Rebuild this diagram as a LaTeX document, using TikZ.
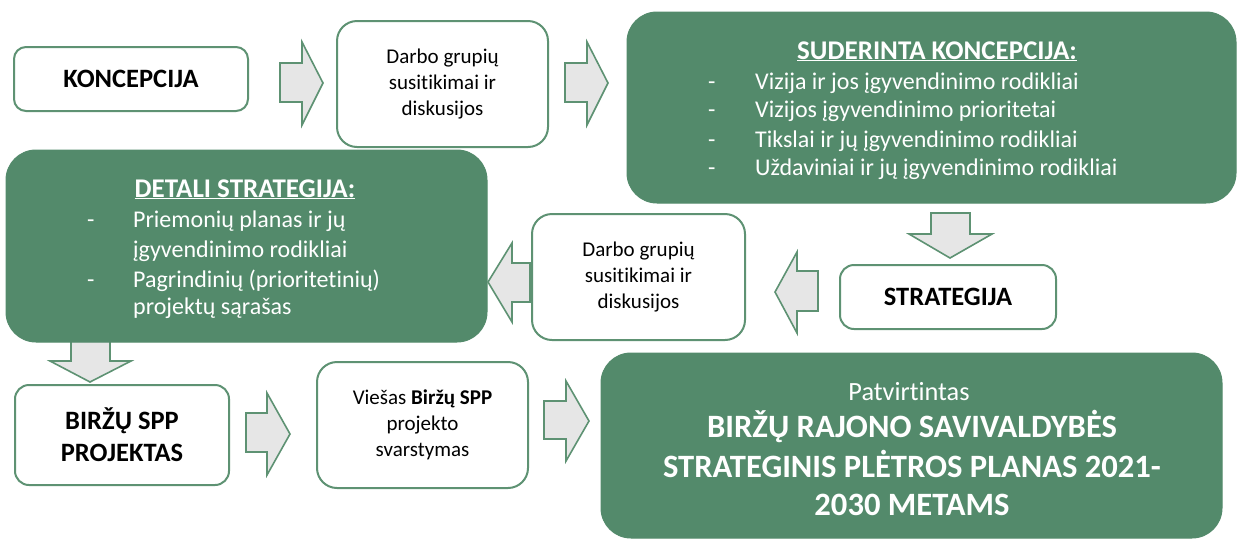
\documentclass[tikz,border=0pt]{standalone}
\usepackage{fontspec}
\setmainfont[Ligatures={NoCommon,NoDiscretionary,NoContextual}]{Carlito}
\definecolor{gr}{HTML}{538A6B}
\definecolor{grb}{HTML}{5E9273}
\definecolor{ag}{HTML}{E6E6E6}
\begin{document}
\begin{tikzpicture}[x=1pt,y=-1pt,
  wbox/.style={draw=grb, line width=2pt, fill=white, inner sep=0pt, align=center},
  gbox/.style={draw=gr, line width=1pt, fill=gr, inner sep=0pt},
  barrow/.style={draw=grb, line width=1.6pt, fill=ag, line join=miter},
  smalltxt/.style={font=\fontsize{21}{26}\selectfont},
  boldtxt/.style={font=\fontsize{26.5}{32}\selectfont\bfseries},
  listtxt/.style={font=\fontsize{24}{30}\selectfont, text=white, inner sep=0pt},
  titletxt/.style={font=\fontsize{27}{32}\selectfont\bfseries, text=white, inner sep=0pt},
  ]
\useasboundingbox (0,0) rectangle (1237,539);

% arrow under D
\draw[barrow] (71,338) -- (110,338) -- (110,361) -- (131,361) -- (90,382) -- (50,361) -- (71,361) -- cycle;

% boxes
\node[wbox, rounded corners=12pt, minimum width=234pt, minimum height=64pt, boldtxt] (A) at (131,79) {KONCEPCIJA};
\node[wbox, rounded corners=20pt, minimum width=211pt, minimum height=126pt, smalltxt] (B) at (442.5,84) {Darbo grupių\\susitikimai ir\\diskusijos};
\node[gbox, rounded corners=30pt, minimum width=609pt, minimum height=191pt] (C) at (931.5,107.5) {};
\node[gbox, rounded corners=30pt, minimum width=481pt, minimum height=192pt] (D) at (246.5,246) {};
\node[wbox, rounded corners=14pt, minimum width=216pt, minimum height=64pt, boldtxt] (E) at (948,297) {STRATEGIJA};
\node[wbox, rounded corners=20pt, minimum width=213pt, minimum height=126pt, smalltxt] (F) at (638.5,277) {Darbo grupių\\susitikimai ir\\diskusijos};
\node[wbox, rounded corners=14pt, minimum width=214pt, minimum height=100pt, boldtxt] (G) at (122,435) {BIRŽŲ SPP\\PROJEKTAS};
\node[wbox, rounded corners=20pt, minimum width=211pt, minimum height=126pt, smalltxt] (H) at (422.5,425) {Viešas \textbf{Biržų SPP}\\projekto\\svarstymas};
\node[gbox, rounded corners=30pt, minimum width=621pt, minimum height=185pt] (I) at (911.5,445.5) {};

% C text
\node[titletxt, anchor=base] (Ct) at (937,59) {\underline{SUDERINTA KONCEPCIJA:}};
\node[listtxt, anchor=base west] (Cd1) at (708,89) {-};
\node[listtxt, anchor=base west] (Cl1) at (755,89) {Vizija ir jos įgyvendinimo rodikliai};
\node[listtxt, anchor=base west] (Cd2) at (708,117) {-};
\node[listtxt, anchor=base west] (Cl2) at (755,117) {Vizijos įgyvendinimo prioritetai};
\node[listtxt, anchor=base west] (Cd3) at (708,147) {-};
\node[listtxt, anchor=base west] (Cl3) at (755,147) {Tikslai ir jų įgyvendinimo rodikliai};
\node[listtxt, anchor=base west] (Cd4) at (708,175) {-};
\node[listtxt, anchor=base west] (Cl4) at (755,175) {Uždaviniai ir jų įgyvendinimo rodikliai};

% D text
\node[titletxt, anchor=base] (Dt) at (245,197) {\underline{DETALI STRATEGIJA:}};
\node[listtxt, anchor=base west] (Dd1) at (87,227) {-};
\node[listtxt, anchor=base west] (Dl1) at (133,227) {Priemonių planas ir jų};
\node[listtxt, anchor=base west] (Dl2) at (133,257) {įgyvendinimo rodikliai};
\node[listtxt, anchor=base west] (Dd3) at (87,287) {-};
\node[listtxt, anchor=base west] (Dl3) at (133,287) {Pagrindinių (prioritetinių)};
\node[listtxt, anchor=base west] (Dl4) at (133,314) {projektų sąrašas};

% I text
\node[listtxt, anchor=base, font=\fontsize{26.3}{32}\selectfont] (It) at (909,400) {Patvirtintas};
\node[listtxt, anchor=base, font=\fontsize{32.6}{39}\selectfont\bfseries] (I1) at (912,437) {BIRŽŲ RAJONO SAVIVALDYBĖS};
\node[listtxt, anchor=base, font=\fontsize{32.6}{39}\selectfont\bfseries] (I2) at (912,477) {STRATEGINIS PLĖTROS PLANAS 2021-};
\node[listtxt, anchor=base, font=\fontsize{32.6}{39}\selectfont\bfseries] (I3) at (912,515) {2030 METAMS};

% block arrows
\draw[barrow] (280,63) -- (302,63) -- (302,42) -- (323,83) -- (302,125) -- (302,102) -- (280,102) -- cycle;
\draw[barrow] (565,63) -- (587,63) -- (587,42) -- (608,83) -- (587,125) -- (587,102) -- (565,102) -- cycle;
\draw[barrow] (931,213) -- (970,213) -- (970,234) -- (992,234) -- (950,258) -- (909,234) -- (931,234) -- cycle;
\draw[barrow] (818,271) -- (797,271) -- (797,252) -- (775,292) -- (797,333) -- (797,311) -- (818,311) -- cycle;
\draw[barrow] (530,263) -- (512,263) -- (512,243) -- (488,282) -- (512,322) -- (512,302) -- (530,302) -- cycle;
\draw[barrow] (246,413) -- (267,413) -- (267,393) -- (290,434) -- (267,475) -- (267,452) -- (246,452) -- cycle;
\draw[barrow] (544,401) -- (566,401) -- (566,381) -- (589,421) -- (566,461) -- (566,439) -- (544,439) -- cycle;
\end{tikzpicture}
\end{document}
